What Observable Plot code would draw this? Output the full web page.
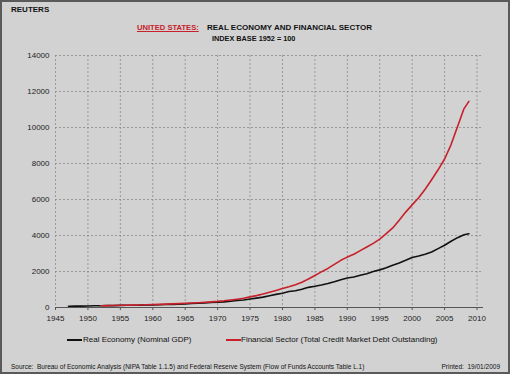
<!DOCTYPE html>
<html>
<head>
<meta charset="utf-8">
<script src="https://cdn.jsdelivr.net/npm/d3@7"></script>
<script src="https://cdn.jsdelivr.net/npm/@observablehq/plot@0.6"></script>
<style>
  html, body { margin: 0; padding: 0; background: #d2d2d2; }
  #page { position: relative; width: 510px; height: 374px; background: #d2d2d2; overflow: hidden;
          font-family: "Liberation Sans", Arial, sans-serif; color: #111; }
  #frame { position: absolute; left: 0; top: 0; width: 510px; height: 374px; box-sizing: border-box;
           border: 2px solid #5a5a5a; pointer-events: none; }
  .t { position: absolute; white-space: pre; line-height: 1; }
  #chart { position: absolute; left: 0; top: 45px; }
  .sw { position: absolute; height: 0; border-top: 2px solid; }
</style>
</head>
<body>
<div id="page">
  <div class="t" style="left:11px; top:6px; font-size:8px; font-weight:bold;">REUTERS</div>
  <div class="t" style="left:137px; top:24px; font-size:7.6px; font-weight:bold; color:#c8202a; text-decoration:underline;">UNITED STATES:</div>
  <div class="t" style="left:207px; top:24px; font-size:8px; font-weight:bold;">REAL ECONOMY AND FINANCIAL SECTOR</div>
  <div class="t" style="left:212px; top:34.5px; font-size:7.3px; font-weight:bold;">INDEX BASE 1952 = 100</div>
  <div id="chart"></div>
  <div class="sw" style="left:67px; top:338.5px; width:15px; border-color:#111;"></div>
  <div class="t" id="lg1" style="left:83px; top:336px; font-size:8px;"></div>
  <div class="sw" style="left:226px; top:338.5px; width:15px; border-color:#c8202a;"></div>
  <div class="t" id="lg2" style="left:241px; top:336px; font-size:8px;"></div>
  <div class="t" id="src" style="left:11px; top:364px; font-size:6.5px;"></div>
  <div class="t" id="prt" style="right:10px; top:364px; font-size:6.5px;"></div>
  <div id="frame"></div>
</div>
<script>
// ---- Data (index, 1952 = 100) ----
const seriesNames = ["Real Economy (Nominal GDP)", "Financial Sector (Total Credit Market Debt Outstanding)"];
const seriesColors = ["#111111", "#c8202a"];

const gdpYears = [1947,1948,1949,1950,1951,1952,1953,1954,1955,1956,1957,1958,1959,1960,1961,1962,1963,1964,1965,1966,1967,1968,1969,1970,1971,1972,1973,1974,1975,1976,1977,1978,1979,1980,1981,1982,1983,1984,1985,1986,1987,1988,1989,1990,1991,1992,1993,1994,1995,1996,1997,1998,1999,2000,2001,2002,2003,2004,2005,2006,2007,2008,2008.75];
const gdpIndex = [68,75,75,82,95,100,106,106,116,122,129,130,142,147,152,164,173,186,201,220,233,254,275,290,315,346,386,419,470,520,578,653,729,796,890,930,1010,1120,1180,1250,1330,1430,1540,1640,1690,1790,1880,2000,2090,2210,2350,2470,2620,2780,2860,2960,3080,3270,3460,3680,3880,4040,4100];

const creditYears = [1952,1953,1954,1955,1956,1957,1958,1959,1960,1961,1962,1963,1964,1965,1966,1967,1968,1969,1970,1971,1972,1973,1974,1975,1976,1977,1978,1979,1980,1981,1982,1983,1984,1985,1986,1987,1988,1989,1990,1991,1992,1993,1994,1995,1996,1997,1998,1999,2000,2001,2002,2003,2004,2005,2006,2007,2008,2008.75];
const creditIndex = [100,106,112,122,128,134,142,153,163,174,187,201,216,233,250,268,290,313,338,372,415,462,510,590,660,750,850,950,1050,1150,1260,1400,1580,1780,1980,2170,2400,2620,2800,2960,3160,3360,3560,3800,4100,4420,4850,5300,5700,6100,6570,7100,7650,8250,9050,10050,11050,11450];

const yTicks = [0,2000,4000,6000,8000,10000,12000,14000];
const xTicks = [1945,1950,1955,1960,1965,1970,1975,1980,1985,1990,1995,2000,2005,2010];

const sourceText = "Source:  Bureau of Economic Analysis (NIPA Table 1.1.5) and Federal Reserve System (Flow of Funds Accounts Table L.1)";
const printedText = "Printed:  19/01/2009";

// ---- Build table ----
const gdp = gdpYears.map((y, i) => ({year: y, value: gdpIndex[i], series: seriesNames[0]}));
const credit = creditYears.map((y, i) => ({year: y, value: creditIndex[i], series: seriesNames[1]}));

const grid = {stroke: "#8a8a8a", strokeOpacity: 1, strokeWidth: 0.8, strokeDasharray: "2,2"};

const chart = Plot.plot({
  width: 510,
  height: 285,
  marginTop: 10,
  marginBottom: 23,
  marginLeft: 55,
  marginRight: 27,
  style: {background: "transparent", fontFamily: "Liberation Sans, Arial, sans-serif", fontSize: "8px", color: "#222"},
  x: {domain: [1945, 2011]},
  y: {domain: [0, 14000]},
  marks: [
    Plot.gridY(yTicks, grid),
    Plot.gridX(xTicks, grid),
    Plot.axisY(yTicks, {tickSize: 0, tickPadding: 6, label: null, tickFormat: d => String(d)}),
    Plot.axisX(xTicks, {tickSize: 3, tickPadding: 5, label: null, tickFormat: d => String(d), stroke: "#555"}),
    Plot.ruleY([0], {stroke: "#555", strokeWidth: 1}),
    Plot.line(gdp, {x: "year", y: "value", stroke: seriesColors[0], strokeWidth: 1.6}),
    Plot.line(credit, {x: "year", y: "value", stroke: seriesColors[1], strokeWidth: 1.6})
  ]
});
document.getElementById("chart").appendChild(chart);
document.getElementById("lg1").textContent = seriesNames[0];
document.getElementById("lg2").textContent = seriesNames[1];
document.getElementById("src").textContent = sourceText;
document.getElementById("prt").textContent = printedText;
</script>
</body>
</html>
